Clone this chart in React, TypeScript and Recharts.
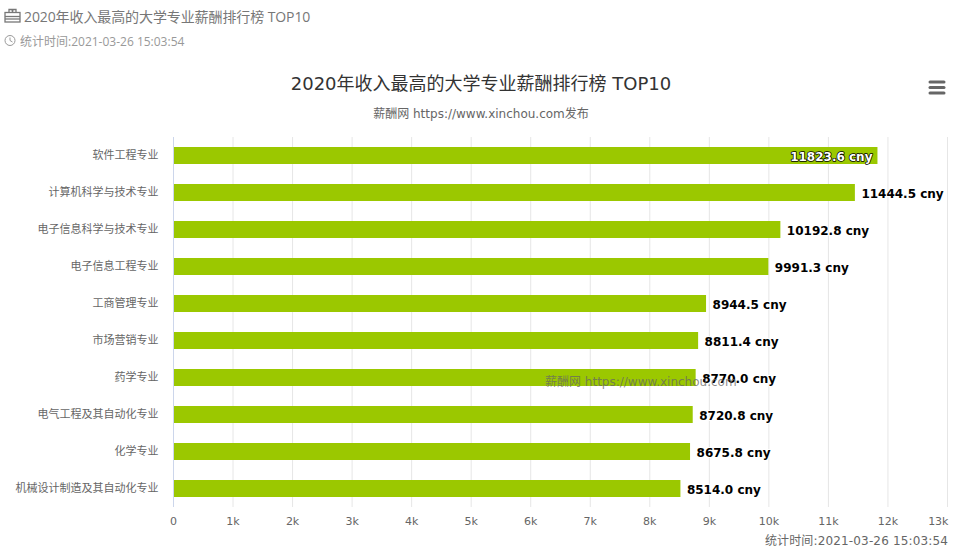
import { BarChart, Bar, XAxis, YAxis, CartesianGrid, LabelList } from 'recharts';

const CATEGORIES = ['软件工程专业', '计算机科学与技术专业', '电子信息科学与技术专业', '电子信息工程专业', '工商管理专业', '市场营销专业', '药学专业', '电气工程及其自动化专业', '化学专业', '机械设计制造及其自动化专业'];
const SALARIES = [11823.6, 11444.5, 10192.8, 9991.3, 8944.5, 8811.4, 8770.0, 8720.8, 8675.8, 8514.0];
const TICKS = [0, 1000, 2000, 3000, 4000, 5000, 6000, 7000, 8000, 9000, 10000, 11000, 12000, 13000];

const data = CATEGORIES.map((name, i) => ({ name, value: SALARIES[i] }));

const FONT = '"DejaVu Sans", "Noto Sans CJK SC", sans-serif';
const HEAD_FONT = '"Open Sans", "Noto Sans CJK SC", sans-serif';

function XTick({ x, y, payload }: any) {
  const last = payload.value === 13000;
  return (
    <text x={last ? x + 1 : x} y={y} textAnchor={last ? 'end' : 'middle'} fontSize={11} fill="#666" fontFamily={FONT}>
      {payload.value === 0 ? '0' : `${payload.value / 1000}k`}
    </text>
  );
}

function YTick({ x, y, payload }: any) {
  return (
    <text x={x} y={y + 3.5} textAnchor="end" fontSize={11} fill="#666" fontFamily={FONT}>
      {payload.value}
    </text>
  );
}

function ValueLabel({ x, y, width, height, value }: any) {
  const inside = value > 11500;
  const tx = inside ? x + width - 5 : x + width + 6.5;
  const label = `${value.toFixed(1)} cny`;
  return (
    <text
      x={tx}
      y={y + height / 2 + 5}
      textAnchor={inside ? 'end' : 'start'}
      fontSize={12}
      fontWeight={700}
      fontFamily={FONT}
      fill={inside ? '#fff' : '#000'}
      stroke={inside ? '#000' : '#fff'}
      strokeWidth={inside ? 1.5 : 2}
      paintOrder="stroke"
      strokeLinejoin="round"
    >
      {label}
    </text>
  );
}

export default function App() {
  return (
    <div style={{ position: 'absolute', left: 0, top: 0, width: 959, height: 557, background: '#fff', overflow: 'hidden' }}>
      {/* page heading above the chart */}
      <svg width={20} height={20} style={{ position: 'absolute', left: 3, top: 6 }} viewBox="0 0 20 20">
        <g fill="none" stroke="#777" strokeWidth={1.3}>
          <rect x={2} y={6.5} width={15} height={9.5} />
          <line x1={2} y1={10.5} x2={17} y2={10.5} />
          <line x1={2} y1={13} x2={17} y2={13} />
          <path d="M6 6.5 L6 3.5 L9 3.5 L9.5 6.5 L10 3.5 L13 3.5 L13 6.5" />
        </g>
      </svg>
      <div style={{ position: 'absolute', left: 24, top: 6, fontFamily: HEAD_FONT, fontSize: 14, letterSpacing: -0.1, color: '#777', whiteSpace: 'nowrap' }}>
        2020年收入最高的大学专业薪酬排行榜 TOP10
      </div>
      <svg width={14} height={14} style={{ position: 'absolute', left: 4, top: 34 }} viewBox="0 0 14 14">
        <circle cx={6} cy={6.5} r={5} fill="none" stroke="#999" strokeWidth={1} />
        <path d="M6 3.5 L6 6.5 L8.5 8" fill="none" stroke="#999" strokeWidth={1} />
      </svg>
      <div style={{ position: 'absolute', left: 20, top: 32, fontFamily: HEAD_FONT, fontSize: 12, color: '#999', whiteSpace: 'nowrap' }}>
        统计时间:2021-03-26 15:03:54
      </div>

      <div style={{ position: 'absolute', left: 0, width: 962, top: 69, textAlign: 'center', fontFamily: FONT, fontSize: 18, color: '#333', whiteSpace: 'nowrap' }}>
        2020年收入最高的大学专业薪酬排行榜 TOP10
      </div>
      <div style={{ position: 'absolute', left: 0, width: 962, top: 104, textAlign: 'center', fontFamily: FONT, fontSize: 12, color: '#666', whiteSpace: 'nowrap' }}>
        薪酬网 https://www.xinchou.com发布
      </div>

      {/* export menu */}
      <svg width={18} height={16} style={{ position: 'absolute', left: 928, top: 80 }}>
        <g stroke="#666" strokeWidth={3} strokeLinecap="round">
          <line x1={2} y1={2} x2={16} y2={2} />
          <line x1={2} y1={7.5} x2={16} y2={7.5} />
          <line x1={2} y1={13} x2={16} y2={13} />
        </g>
      </svg>

      <div style={{ position: 'absolute', left: 0, top: 0 }}>
        <BarChart
          width={959}
          height={557}
          data={data}
          layout="vertical"
          margin={{ top: 137, right: 11.5, bottom: 0, left: 0 }}
          barSize={17}
        >
          <CartesianGrid horizontal={false} stroke="#e6e6e6" />
          <XAxis
            type="number"
            domain={[0, 13000]}
            ticks={TICKS}
            interval={0}
            height={50}
            axisLine={false}
            tickLine={false}
            tickMargin={12}
            tick={<XTick />}
          />
          <YAxis
            type="category"
            dataKey="name"
            width={173.5}
            interval={0}
            axisLine={{ stroke: '#ccd6eb' }}
            tickLine={false}
            tickMargin={9}
            tick={<YTick />}
          />
          <Bar dataKey="value" fill="#9bc800" isAnimationActive={false}>
            <LabelList dataKey="value" content={<ValueLabel />} />
          </Bar>
        </BarChart>
      </div>

      <div style={{ position: 'absolute', left: 545, top: 372, fontFamily: FONT, fontSize: 12, color: 'rgba(102,102,102,0.75)', whiteSpace: 'nowrap' }}>
        薪酬网 https://www.xinchou.com
      </div>
      <div style={{ position: 'absolute', right: 11, top: 531, fontFamily: FONT, fontSize: 12, letterSpacing: 0.15, color: '#666', whiteSpace: 'nowrap' }}>
        统计时间:2021-03-26 15:03:54
      </div>
    </div>
  );
}
